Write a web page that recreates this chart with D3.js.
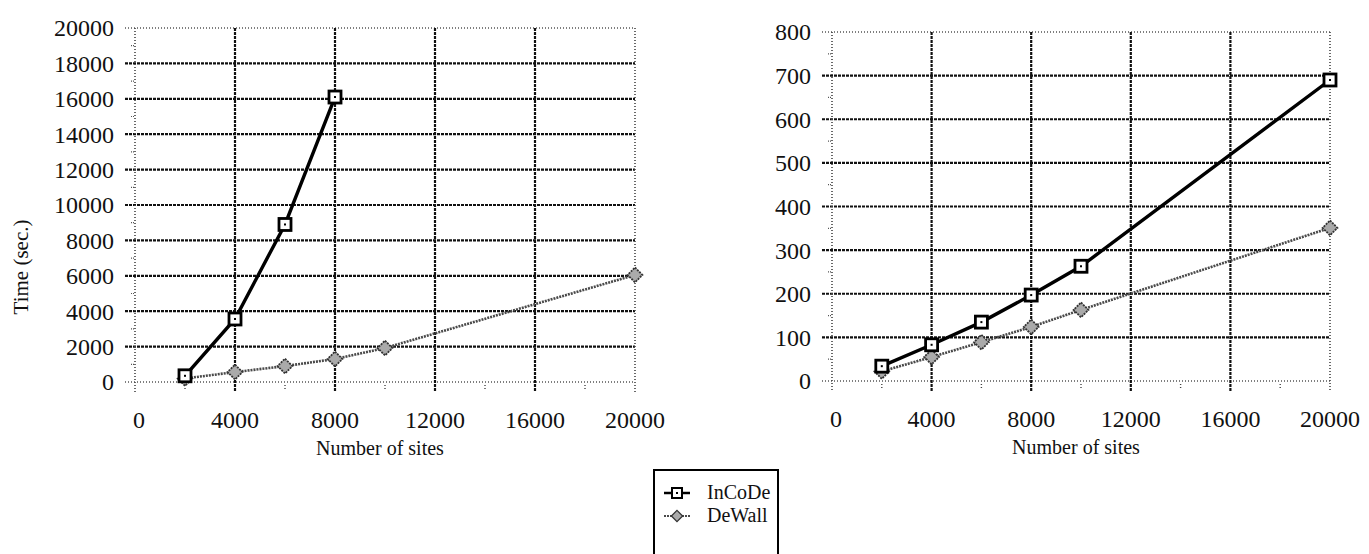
<!DOCTYPE html>
<html>
<head>
<meta charset="utf-8">
<script src="https://cdn.jsdelivr.net/npm/d3@7"></script>
<style>
    body { margin: 0; background: #fff; }
    svg text { font-family: "Liberation Serif", "DejaVu Serif", serif; }
</style>
</head>
<body>
<div id="chart"></div>
<script>
// x axis (shared by both panels)
const xTicks = [0, 4000, 8000, 12000, 16000, 20000];
const xMinor = [2000, 6000, 10000, 14000, 18000];

// left panel
const leftYTicks = [0, 2000, 4000, 6000, 8000, 10000, 12000, 14000, 16000, 18000, 20000];
const leftInCoDeSites = [2000, 4000, 6000, 8000];
const leftInCoDe = [350, 3560, 8900, 16100];
const leftDeWallSites = [2000, 4000, 6000, 8000, 10000, 20000];
const leftDeWall = [200, 560, 900, 1300, 1920, 6050];

// right panel
const rightYTicks = [0, 100, 200, 300, 400, 500, 600, 700, 800];
const rightSites = [2000, 4000, 6000, 8000, 10000, 20000];
const rightInCoDe = [34, 83, 135, 197, 263, 690];
const rightDeWall = [22, 55, 89, 124, 163, 351];

const seriesNames = ["InCoDe", "DeWall"];

const W = 1369, H = 554;
const FONT = "Liberation Serif";
const svg = d3.select("#chart").append("svg").attr("width", W).attr("height", H);

function drawPanel(opt) {
    const x = d3.scaleLinear().domain([0, 20000]).range([opt.x0, opt.x1]);
    const y = d3.scaleLinear().domain([0, opt.yMax]).range([opt.y0, opt.y1]);
    const g = svg.append("g");
    const isEdgeY = d => d === 0 || d === opt.yMax;
    const isEdgeX = d => d === 0 || d === 20000;

    // minor y ticks on the left border
    const minorY = d3.range(opt.yStep / 2, opt.yMax, opt.yStep);
    g.selectAll(".my").data(minorY).enter().append("line")
        .attr("x1", opt.x0 - 4).attr("x2", opt.x0)
        .attr("y1", d => y(d)).attr("y2", d => y(d))
        .attr("stroke", "#555").attr("stroke-width", 1.2).attr("stroke-dasharray", "1,1");

    // minor x ticks below the axis
    g.selectAll(".mx").data(xMinor).enter().append("line")
        .attr("x1", d => x(d)).attr("x2", d => x(d))
        .attr("y1", opt.y0 + 3).attr("y2", opt.y0 + 9)
        .attr("stroke", "#444").attr("stroke-width", 1.4).attr("stroke-dasharray", "1,2");

    // horizontal grid
    g.selectAll(".hg").data(opt.yTicks).enter().append("line")
        .attr("x1", opt.x0 - 10).attr("x2", opt.x1)
        .attr("y1", d => y(d)).attr("y2", d => y(d))
        .attr("stroke", d => isEdgeY(d) ? "#555" : "#111")
        .attr("stroke-width", d => isEdgeY(d) ? 1.5 : 2.2)
        .attr("stroke-dasharray", d => isEdgeY(d) ? "1,2" : "3,1");

    // vertical grid
    g.selectAll(".vg").data(xTicks).enter().append("line")
        .attr("x1", d => x(d)).attr("x2", d => x(d))
        .attr("y1", opt.y1).attr("y2", opt.y0 + 10)
        .attr("stroke", d => isEdgeX(d) ? "#444" : "#111")
        .attr("stroke-width", d => isEdgeX(d) ? 1.6 : 2.2)
        .attr("stroke-dasharray", d => isEdgeX(d) ? "1,2" : "3,1");

    // y tick labels
    g.selectAll(".yl").data(opt.yTicks).enter().append("text")
        .attr("x", opt.labelX).attr("y", d => y(d)).attr("dy", "0.35em")
        .attr("text-anchor", "end").attr("font-size", 24).attr("font-family", FONT)
        .attr("fill", "#111")
        .text(d => d);

    // x tick labels
    g.selectAll(".xl").data(xTicks).enter().append("text")
        .attr("x", d => x(d) + (d === 0 ? 4 : 0)).attr("y", opt.y0 + 46)
        .attr("text-anchor", "middle").attr("font-size", 24).attr("font-family", FONT)
        .attr("fill", "#111")
        .text(d => d);

    g.append("text")
        .attr("x", (opt.x0 + opt.x1) / 2 - 5).attr("y", opt.y0 + 73)
        .attr("text-anchor", "middle").attr("font-size", 20).attr("font-family", FONT)
        .attr("fill", "#111")
        .text("Number of sites");

    if (opt.yTitle) {
        g.append("text")
            .attr("transform", `translate(28,${(opt.y0 + opt.y1) / 2 + 62}) rotate(-90)`)
            .attr("text-anchor", "middle").attr("font-size", 21).attr("font-family", FONT)
            .attr("fill", "#111")
            .text(opt.yTitle);
    }

    const line = d3.line().x(d => x(d[0])).y(d => y(d[1]));

    // DeWall
    const dw = d3.zip(opt.dwSites, opt.dwVals);
    g.append("path").datum(dw).attr("d", line)
        .attr("fill", "none").attr("stroke", "#4a4a4a").attr("stroke-width", 2.6)
        .attr("stroke-dasharray", "2,1");
    g.selectAll(".dw").data(dw).enter().append("path")
        .attr("transform", d => `translate(${x(d[0])},${y(d[1])})`)
        .attr("d", d3.symbol(d3.symbolDiamond2, 140))
        .attr("fill", "#aaa").attr("stroke", "#333").attr("stroke-width", 1.8)
        .attr("stroke-dasharray", "2,1");

    // InCoDe
    const ic = d3.zip(opt.icSites, opt.icVals);
    g.append("path").datum(ic).attr("d", line)
        .attr("fill", "none").attr("stroke", "#000").attr("stroke-width", 3.4);
    const sq = g.selectAll(".ic").data(ic).enter().append("g")
        .attr("transform", d => `translate(${x(d[0])},${y(d[1])})`);
    sq.append("rect").attr("x", -6).attr("y", -6).attr("width", 12).attr("height", 12)
        .attr("fill", "#fff").attr("stroke", "#000").attr("stroke-width", 2.8);
    sq.append("rect").attr("x", -1).attr("y", -1).attr("width", 2).attr("height", 2).attr("fill", "#000");
}

drawPanel({
    x0: 135, x1: 635, y0: 382, y1: 28, yMax: 20000, yStep: 2000, labelX: 114,
    yTicks: leftYTicks, yTitle: "Time (sec.)",
    icSites: leftInCoDeSites, icVals: leftInCoDe,
    dwSites: leftDeWallSites, dwVals: leftDeWall
});

drawPanel({
    x0: 832, x1: 1330, y0: 381, y1: 32, yMax: 800, yStep: 100, labelX: 811,
    yTicks: rightYTicks,
    icSites: rightSites, icVals: rightInCoDe,
    dwSites: rightSites, dwVals: rightDeWall
});

// legend
const legend = svg.append("g").attr("transform", "translate(654,470)");
legend.append("rect").attr("width", 124).attr("height", 100)
    .attr("fill", "#fff").attr("stroke", "#000").attr("stroke-width", 2);
seriesNames.forEach((name, i) => {
    const yy = 23 + i * 23;
    const item = legend.append("g").attr("transform", `translate(0,${yy})`);
    if (i === 0) {
        item.append("line").attr("x1", 10).attr("x2", 36).attr("y1", 0).attr("y2", 0)
            .attr("stroke", "#000").attr("stroke-width", 2.5);
        item.append("rect").attr("x", 18).attr("y", -5).attr("width", 10).attr("height", 10)
            .attr("fill", "#fff").attr("stroke", "#000").attr("stroke-width", 2);
        item.append("rect").attr("x", 22).attr("y", -1).attr("width", 2).attr("height", 2).attr("fill", "#000");
    } else {
        item.append("line").attr("x1", 10).attr("x2", 36).attr("y1", 0).attr("y2", 0)
            .attr("stroke", "#4a4a4a").attr("stroke-width", 2).attr("stroke-dasharray", "2,1");
        item.append("path").attr("transform", "translate(23,0)")
            .attr("d", d3.symbol(d3.symbolDiamond2, 80))
            .attr("fill", "#aaa").attr("stroke", "#333").attr("stroke-width", 1.3);
    }
    item.append("text").attr("x", 53).attr("y", 0).attr("dy", "0.32em")
        .attr("font-size", 20).attr("font-family", FONT).attr("fill", "#111").text(name);
});
</script>
</body>
</html>
